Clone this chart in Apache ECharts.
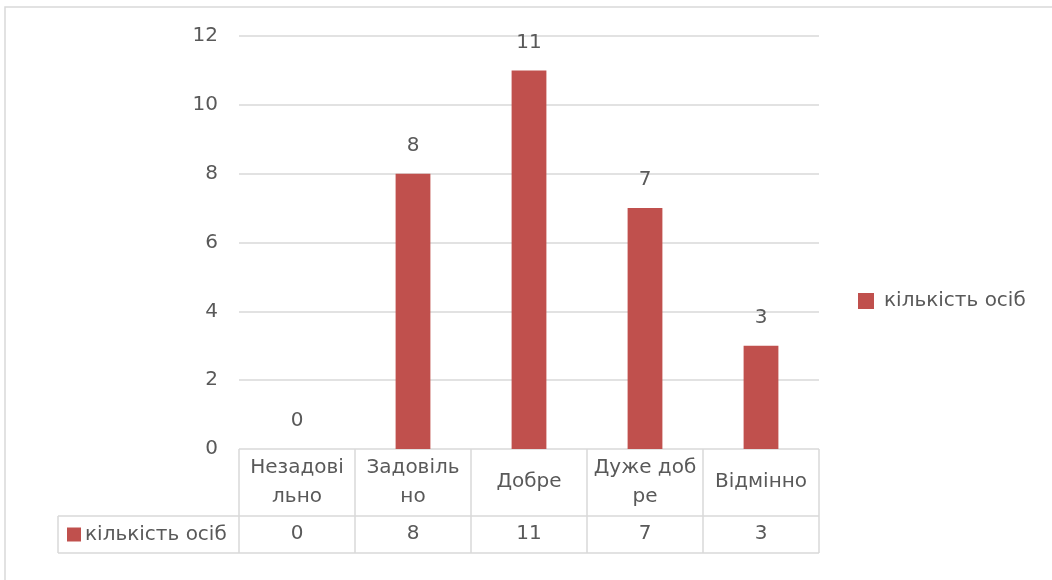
<!DOCTYPE html>
<html>
<head>
<meta charset="utf-8">
<script src="https://cdn.jsdelivr.net/npm/echarts@6/dist/echarts.min.js"></script>
<style>
  html, body { margin: 0; padding: 0; background: #ffffff; }
  #chart { width: 1052px; height: 580px; }
</style>
</head>
<body>
<div id="chart"></div>
<script>
// Grades and the number of people who got each of them
const categories = ['Незадові\nльно', 'Задовіль\nно', 'Добре', 'Дуже доб\nре', 'Відмінно'];
const seriesName = 'кількість осіб';
const counts = [0, 8, 11, 7, 3];
const yTicks = [0, 2, 4, 6, 8, 10, 12];

const FONT = '"DejaVu Sans", "Open Sans", sans-serif';
const TEXT = '#595959';
const LINE = '#D9D9D9';
const BAR = '#C0504D';
const FS = 20;

const chart = echarts.init(document.getElementById('chart'));

const grid = { left: 239, right: 233, top: 36, bottom: 131 };

chart.setOption({
  animation: false,
  textStyle: { fontFamily: FONT },
  grid: grid,
  legend: {
    orient: 'vertical',
    left: 853,
    top: 286,
    itemWidth: 16,
    itemHeight: 16,
    itemGap: 10,
    icon: 'rect',
    textStyle: { color: TEXT, fontSize: FS, fontFamily: FONT, padding: [0, 0, 0, 5] },
    data: [seriesName]
  },
  xAxis: [
    {
      type: 'category',
      data: categories,
      position: 'bottom',
      axisLine: { show: false },
      axisTick: { show: true, length: 104, lineStyle: { color: LINE, width: 1.5 } },
      axisLabel: {
        color: TEXT, fontSize: FS, fontFamily: FONT,
        interval: 0, margin: 33, verticalAlign: 'middle', lineHeight: 29
      }
    },
    {
      // value row of the data table under the category row
      type: 'category',
      data: counts.map(String),
      position: 'bottom',
      axisLine: { show: false },
      axisTick: { show: false },
      axisLabel: {
        color: TEXT, fontSize: FS, fontFamily: FONT,
        interval: 0, margin: 85, verticalAlign: 'middle'
      }
    }
  ],
  yAxis: {
    type: 'value',
    min: yTicks[0],
    max: yTicks[yTicks.length - 1],
    interval: yTicks[1] - yTicks[0],
    axisLine: { show: false },
    axisTick: { show: false },
    axisLabel: { color: TEXT, fontSize: FS, fontFamily: FONT, margin: 21 },
    splitLine: { lineStyle: { color: LINE, width: 1.5 } }
  },
  series: [{
    name: seriesName,
    type: 'bar',
    xAxisIndex: 0,
    data: counts,
    barWidth: '30%',
    itemStyle: { color: BAR },
    label: {
      show: true, position: 'top', distance: 18,
      color: TEXT, fontSize: FS, fontFamily: FONT
    }
  }]
});

// Table frame and its row header, placed from the axis scale
function drawTable() {
  const x0 = chart.convertToPixel({ xAxisIndex: 0 }, 0);
  const x1 = chart.convertToPixel({ xAxisIndex: 0 }, 1);
  const band = x1 - x0;
  const plotLeft = x0 - band / 2;
  const plotRight = plotLeft + band * categories.length;
  const yZero = chart.convertToPixel({ yAxisIndex: 0 }, 0);
  const rowMid = yZero + 67;
  const rowBottom = yZero + 104;
  const tableLeft = 58;
  const ls = { stroke: LINE, lineWidth: 1.5 };
  chart.setOption({
    graphic: [
      { type: 'rect', shape: { x: 5, y: 7, width: 1100, height: 600 }, style: { fill: null, stroke: LINE, lineWidth: 1.5 }, silent: true },
      { type: 'line', shape: { x1: tableLeft, y1: rowMid, x2: plotRight, y2: rowMid }, style: ls },
      { type: 'line', shape: { x1: tableLeft, y1: rowBottom, x2: plotRight, y2: rowBottom }, style: ls },
      { type: 'line', shape: { x1: tableLeft, y1: rowMid, x2: tableLeft, y2: rowBottom }, style: ls },
      { type: 'rect', shape: { x: 67, y: (rowMid + rowBottom) / 2 - 7, width: 14, height: 14 }, style: { fill: BAR } },
      { type: 'text', x: 85, y: (rowMid + rowBottom) / 2, style: { text: seriesName, fill: TEXT, fontSize: FS, fontFamily: FONT, verticalAlign: 'middle' } }
    ]
  });
}
drawTable();
</script>
</body>
</html>
